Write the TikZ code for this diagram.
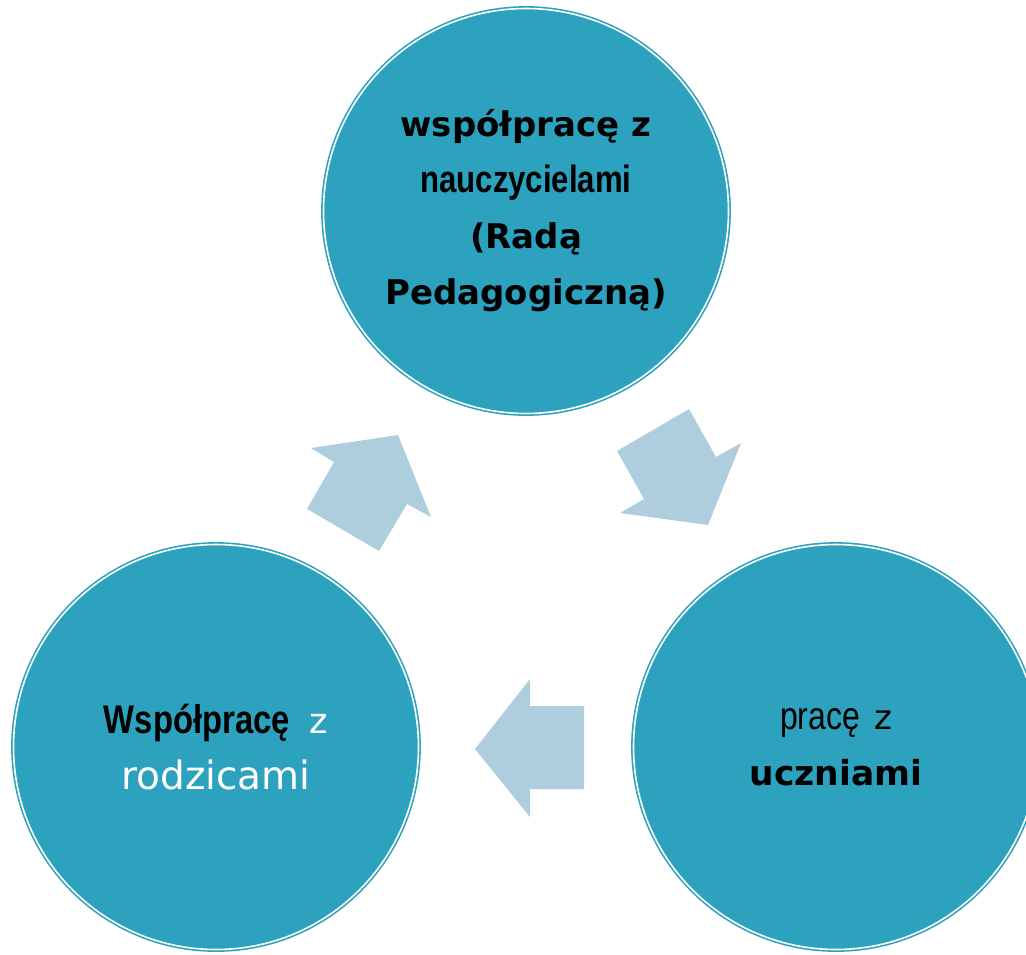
\documentclass[tikz,border=0pt]{standalone}
\usepackage{fontspec}
\setmainfont{DejaVu Sans}
\newfontfamily\humfont{DejaVu Sans}
\newfontfamily\narrowfont[FakeStretch=0.82]{Liberation Sans}
\usetikzlibrary{positioning}
\definecolor{circteal}{RGB}{44,162,191}
\definecolor{arrowblue}{RGB}{174,206,222}
\tikzset{
  ringnode/.style={circle, minimum size=405pt, inner sep=0pt, fill=circteal,
    draw=circteal, double=white, double distance=1.6pt, line width=1.6pt,
    align=center, font=\fontsize{34}{56}\selectfont},
  flowarrow/.style={fill=arrowblue, draw=none}
}
\begin{document}
\begin{tikzpicture}[x=1pt,y=-1pt]
\useasboundingbox (0,0) rectangle (1026,954);
% circles
\node[ringnode] (teachers) at (526,211)
  {\humfont\bfseries współpracę z\\
   \narrowfont\bfseries\fontsize{38}{56}\selectfont nauczycielami\\
   \humfont\bfseries (Radą\\
   \humfont\bfseries Pedagogiczną)};
\node[ringnode] (parents) at (216,747)
  {\narrowfont\bfseries\fontsize{40}{54}\selectfont Współpracę\hspace{20pt}{\humfont\mdseries\color{white}\fontsize{35}{54}\selectfont z}\\
   \humfont\color{white}\fontsize{39}{54}\selectfont rodzicami};
\node[ringnode] (pupils) at (836,747)
  {\narrowfont\fontsize{39}{54}\selectfont pracę\hspace{14pt}{\humfont\fontsize{34}{54}\selectfont z}\\
   \humfont\bfseries\fontsize{34.5}{54}\selectfont uczniami};
% arrows
\fill[flowarrow] (311,448) -- (398,435) -- (431,517) -- (407,504) -- (379,551)
  -- (307,509) -- (334,462) -- cycle;
\fill[flowarrow] (689,409) -- (716,457) -- (741,443) -- (708,525) -- (620,513)
  -- (644,499) -- (617,451) -- cycle;
\fill[flowarrow] (475,749) -- (530,679) -- (530,706) -- (584,706) -- (584,789)
  -- (530,789) -- (530,817) -- cycle;
\end{tikzpicture}
\end{document}
